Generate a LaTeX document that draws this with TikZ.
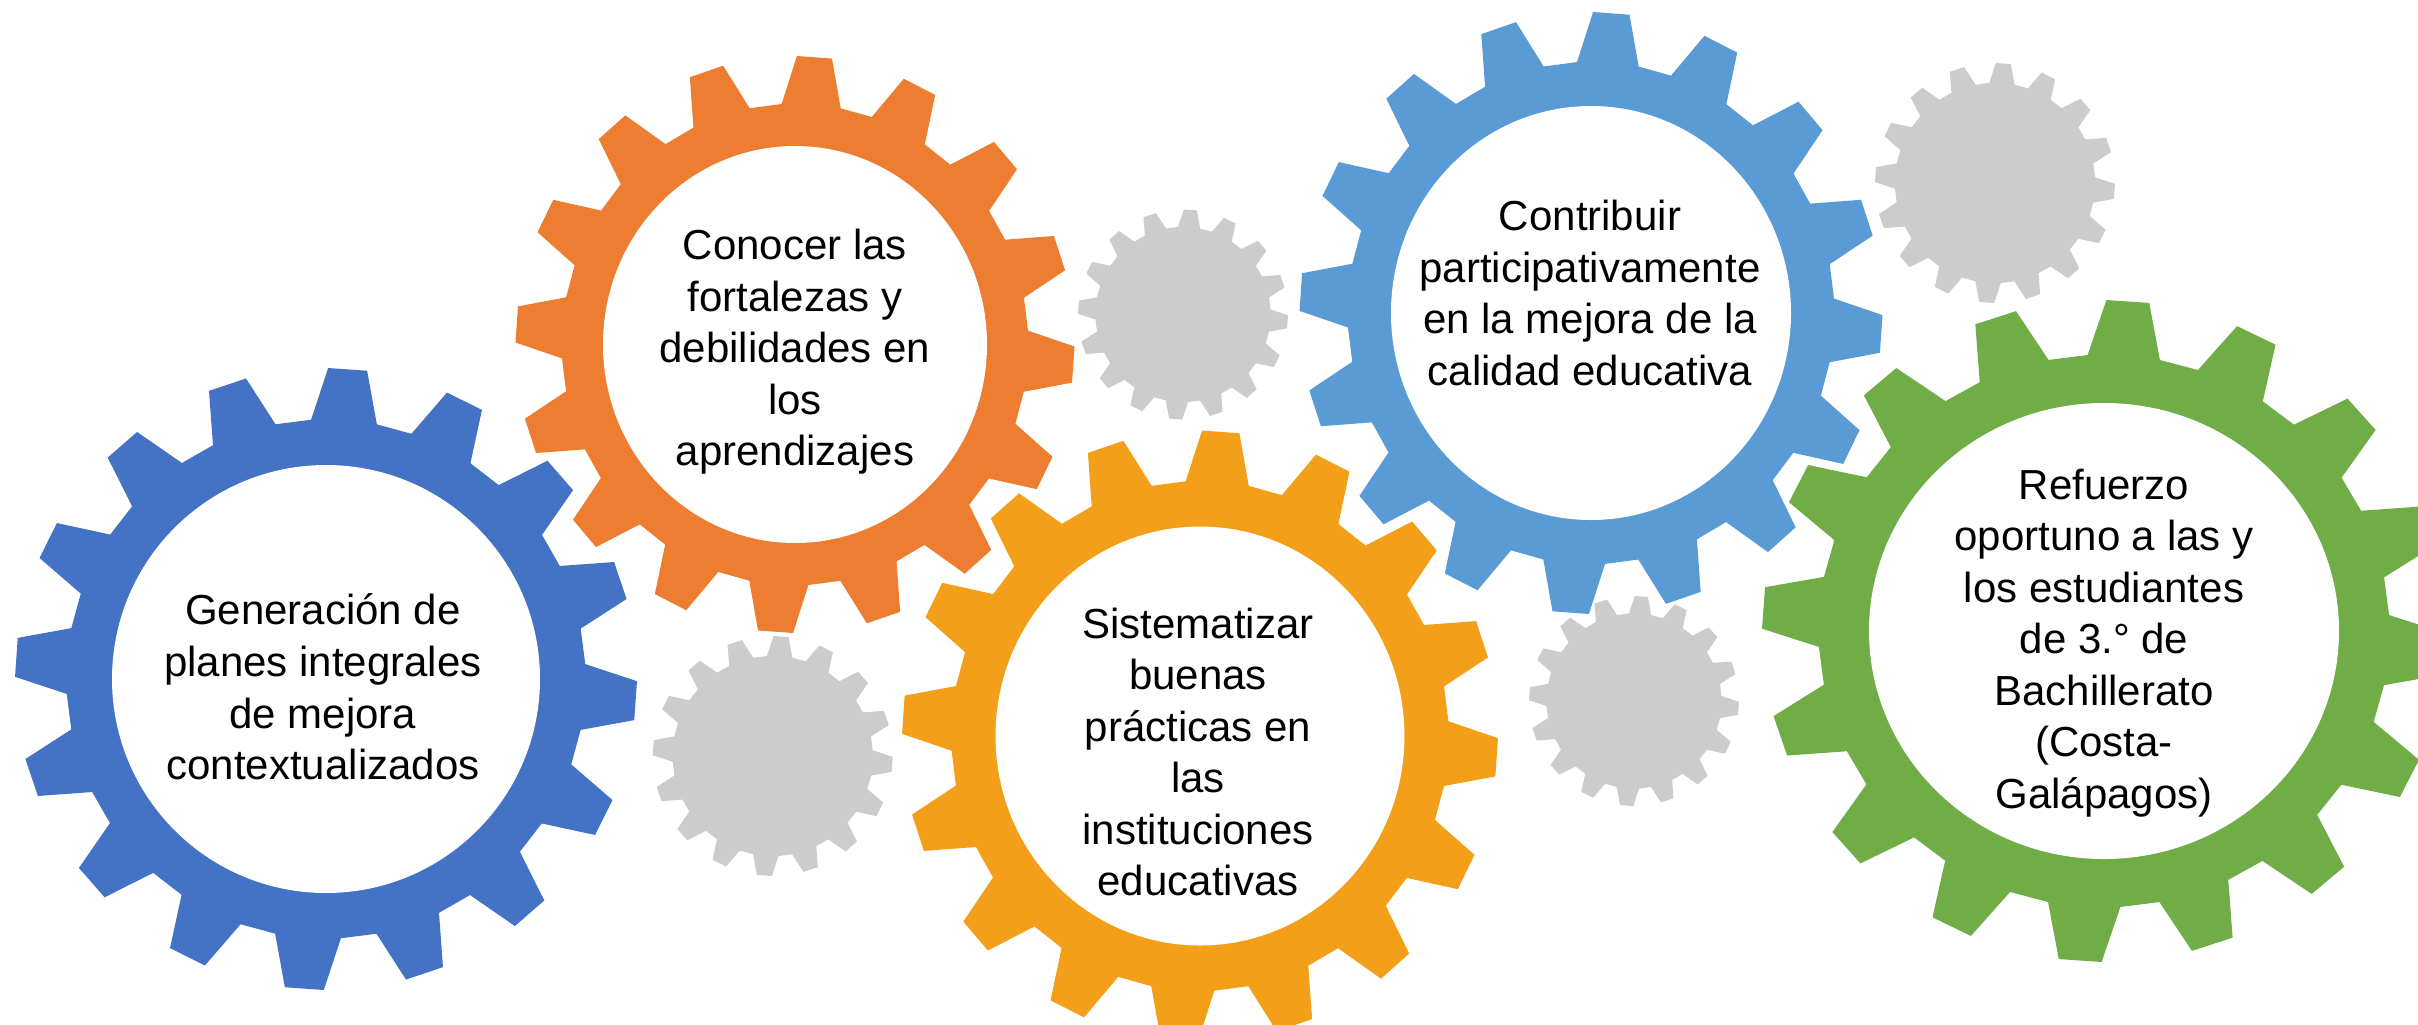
\documentclass[tikz,border=0pt]{standalone}
\usepackage{fontspec}
\setmainfont{Liberation Sans}
\usepackage{tikz}
\usetikzlibrary{shapes.geometric}
\definecolor{gearblue}{HTML}{4472C4}
\definecolor{gearorange}{HTML}{ED7D31}
\definecolor{geargold}{HTML}{F39F19}
\definecolor{gearsky}{HTML}{5B9BD5}
\definecolor{geargreen}{HTML}{70AD47}
\definecolor{gearlight}{HTML}{CCCCCC}
\tikzset{%
  cog/.pic={
    \fill[pic actions] (-11.3:0.835)
      \foreach \a in {-4,18.5,...,334}
        { -- (\a-7.3:0.835) -- (\a-3.6:1) -- (\a+3.6:1) -- (\a+7.3:0.835) }
      -- cycle;
  },
  hole/.style={ellipse,fill=white,inner sep=0pt},
  gtext/.style={align=center,inner sep=0pt,
    font=\fontsize{11.95}{14.66}\selectfont}
}

\begin{document}
\begin{tikzpicture}
    \clip (0,0) rectangle (24.18,-10.24);
    \useasboundingbox (0,0) rectangle (24.18,-10.24);
    %
    \coordinate (cblue) at (3.26,-6.79);
    \coordinate (corange) at (7.95,-3.445);
    \coordinate (cgold) at (12.00,-7.36);
    \coordinate (csky) at (15.91,-3.13);
    \coordinate (cgreen) at (21.04,-6.31);
    %
    \pic[fill=gearlight,scale=1.05] at (11.83,-3.145) {cog};
    \pic[fill=gearlight,scale=1.20] at (7.727,-7.56) {cog};
    \pic[fill=gearlight,scale=1.05] at (16.34,-7.01) {cog};
    \pic[fill=gearlight,scale=1.20] at (19.95,-1.83) {cog};
    %
    \pic[fill=gearblue,scale=3.11] at (cblue) {cog};
    \node[hole,minimum width=4.28cm,minimum height=4.28cm] (hblue) at (cblue) {};
    \node[gtext] (tblue) at (3.23,-6.87)
      {Generación de\\planes integrales\\de mejora\\contextualizados};
    %
    \pic[fill=gearorange,xscale=2.795,yscale=2.885] at (corange) {cog};
    \node[hole,minimum width=3.84cm,minimum height=3.97cm] (horange) at (corange) {};
    \node[gtext] (torange) at (7.95,-3.52)
      {Conocer las\\fortalezas y\\debilidades en\\los\\aprendizajes};
    %
    \pic[fill=geargold,xscale=2.98,yscale=3.055] at (cgold) {cog};
    \node[hole,minimum width=4.09cm,minimum height=4.19cm] (hgold) at (cgold) {};
    \node[gtext] (tgold) at (11.98,-7.52)
      {Sistematizar\\buenas\\prácticas en\\las\\instituciones\\educativas};
    %
    \pic[fill=gearsky,xscale=2.915,yscale=3.01] at (csky) {cog};
    \node[hole,minimum width=4.00cm,minimum height=4.14cm] (hsky) at (csky) {};
    \node[gtext] (tsky) at (15.90,-2.93)
      {Contribuir\\participativamente\\en la mejora de la\\calidad educativa};
    %
    \pic[fill=geargreen,xscale=3.42,yscale=3.31] at (cgreen) {cog};
    \node[hole,minimum width=4.70cm,minimum height=4.56cm] (hgreen) at (cgreen) {};
    \node[gtext] (tgreen) at (21.04,-6.43)
      {Refuerzo\\oportuno a las y\\los estudiantes\\de 3.° de\\Bachillerato\\(Costa-\\Galápagos)};
\end{tikzpicture}
\end{document}
